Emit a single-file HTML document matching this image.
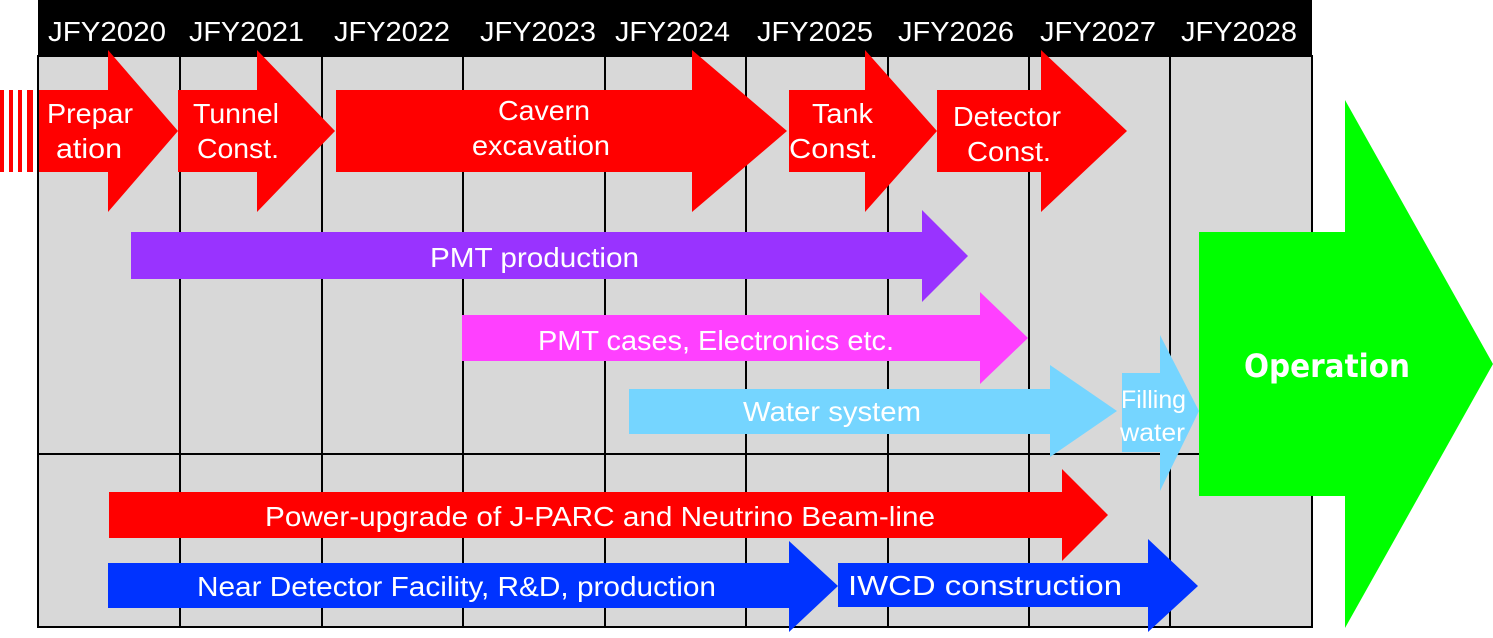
<!DOCTYPE html>
<html><head><meta charset="utf-8"><style>
body{margin:0;background:#fff;width:1493px;height:633px;overflow:hidden}
svg text{font-family:"Liberation Sans",Arial,sans-serif;fill:#fff}
</style></head><body>
<svg width="1493" height="633" viewBox="0 0 1493 633" xmlns="http://www.w3.org/2000/svg">
<rect x="38" y="0" width="1274" height="56" fill="#000"/>
<rect x="38" y="56" width="1274" height="571" fill="#d8d8d8" stroke="#000" stroke-width="2"/>
<g stroke="#000" stroke-width="2">
<line x1="180" y1="56" x2="180" y2="627"/><line x1="322" y1="56" x2="322" y2="627"/>
<line x1="463" y1="56" x2="463" y2="627"/><line x1="605" y1="56" x2="605" y2="627"/>
<line x1="746" y1="56" x2="746" y2="627"/><line x1="888" y1="56" x2="888" y2="627"/>
<line x1="1029" y1="56" x2="1029" y2="627"/><line x1="1170" y1="56" x2="1170" y2="627"/>
<line x1="38" y1="454" x2="1312" y2="454"/>
</g>
<g font-size="28" lengthAdjust="spacingAndGlyphs">
<text x="48" y="41" textLength="118" lengthAdjust="spacingAndGlyphs">JFY2020</text>
<text x="189" y="41" textLength="115" lengthAdjust="spacingAndGlyphs">JFY2021</text>
<text x="334" y="41" textLength="116" lengthAdjust="spacingAndGlyphs">JFY2022</text>
<text x="480" y="41" textLength="116" lengthAdjust="spacingAndGlyphs">JFY2023</text>
<text x="615" y="41" textLength="115" lengthAdjust="spacingAndGlyphs">JFY2024</text>
<text x="757" y="41" textLength="116" lengthAdjust="spacingAndGlyphs">JFY2025</text>
<text x="898" y="41" textLength="116" lengthAdjust="spacingAndGlyphs">JFY2026</text>
<text x="1040" y="41" textLength="116" lengthAdjust="spacingAndGlyphs">JFY2027</text>
<text x="1181" y="41" textLength="116" lengthAdjust="spacingAndGlyphs">JFY2028</text>
</g>
<g fill="#f00">
<rect x="0" y="90" width="4" height="82"/><rect x="9" y="90" width="4" height="82"/><rect x="18" y="90" width="4" height="82"/><rect x="27" y="90" width="6" height="82"/>
<polygon points="39,90 108,90 108,50 178,131 108,212 108,172 39,172"/>
<polygon points="178,90 257,90 257,50 335,131 257,212 257,172 178,172"/>
<polygon points="336,90 692,90 692,50 787,131 692,212 692,172 336,172"/>
<polygon points="789,90 865,90 865,50 937,131 865,212 865,172 789,172"/>
<polygon points="937,90 1041,90 1041,50 1127,131 1041,212 1041,172 937,172"/>
<polygon points="109,492 1062,492 1062,469 1108,515 1062,561 1062,538 109,538"/>
</g>
<polygon fill="#9933ff" points="131,232 922,232 922,210 968,256 922,302 922,279 131,279"/>
<polygon fill="#ff40ff" points="462,315 980,315 980,292 1028,338 980,384 980,361 462,361"/>
<polygon fill="#75d5ff" points="629,389 1050,389 1050,365 1117,411 1050,457 1050,434 629,434"/>
<polygon fill="#75d5ff" points="1122,373 1160,373 1160,335 1199,411 1160,491 1160,452 1122,452"/>
<polygon fill="#00ff00" points="1199,232 1345,232 1345,100 1493,364 1345,628 1345,496 1199,496"/>
<polygon fill="#0033ff" points="108,563 789,563 789,541 838,586 789,632 789,608 108,608"/>
<polygon fill="#0033ff" points="838,563 1148,563 1148,539 1198,586 1148,632 1148,607 838,607"/>
<g font-size="28">
<text x="47" y="123" textLength="86" lengthAdjust="spacingAndGlyphs">Prepar</text>
<text x="56" y="158" textLength="66" lengthAdjust="spacingAndGlyphs">ation</text>
<text x="193" y="123" textLength="86" lengthAdjust="spacingAndGlyphs">Tunnel</text>
<text x="197" y="158" textLength="82" lengthAdjust="spacingAndGlyphs">Const.</text>
<text x="498" y="120" textLength="92" lengthAdjust="spacingAndGlyphs">Cavern</text>
<text x="472" y="155" textLength="138" lengthAdjust="spacingAndGlyphs">excavation</text>
<text x="812" y="123" textLength="61" lengthAdjust="spacingAndGlyphs">Tank</text>
<text x="789" y="158" textLength="89" lengthAdjust="spacingAndGlyphs">Const.</text>
<text x="953" y="126" textLength="108" lengthAdjust="spacingAndGlyphs">Detector</text>
<text x="967" y="161" textLength="84" lengthAdjust="spacingAndGlyphs">Const.</text>
<text x="430" y="267" textLength="209" lengthAdjust="spacingAndGlyphs">PMT production</text>
<text x="538" y="350" textLength="356" lengthAdjust="spacingAndGlyphs">PMT cases, Electronics etc.</text>
<text x="743" y="421" textLength="178" lengthAdjust="spacingAndGlyphs">Water system</text>
<text x="265" y="526" textLength="670" lengthAdjust="spacingAndGlyphs">Power-upgrade of J-PARC and Neutrino Beam-line</text>
<text x="197" y="596" textLength="519" lengthAdjust="spacingAndGlyphs">Near Detector Facility, R&amp;D, production</text>
<text x="848" y="595" textLength="274" lengthAdjust="spacingAndGlyphs">IWCD construction</text>
</g>
<g font-size="25">
<text x="1121" y="408" textLength="65" lengthAdjust="spacingAndGlyphs">Filling</text>
<text x="1120" y="441" textLength="65" lengthAdjust="spacingAndGlyphs">water</text>
</g>
<text x="1244" y="377" font-size="32" font-weight="bold" textLength="166" lengthAdjust="spacingAndGlyphs" style="font-family:'DejaVu Sans',sans-serif">Operation</text>
</svg>
</body></html>
